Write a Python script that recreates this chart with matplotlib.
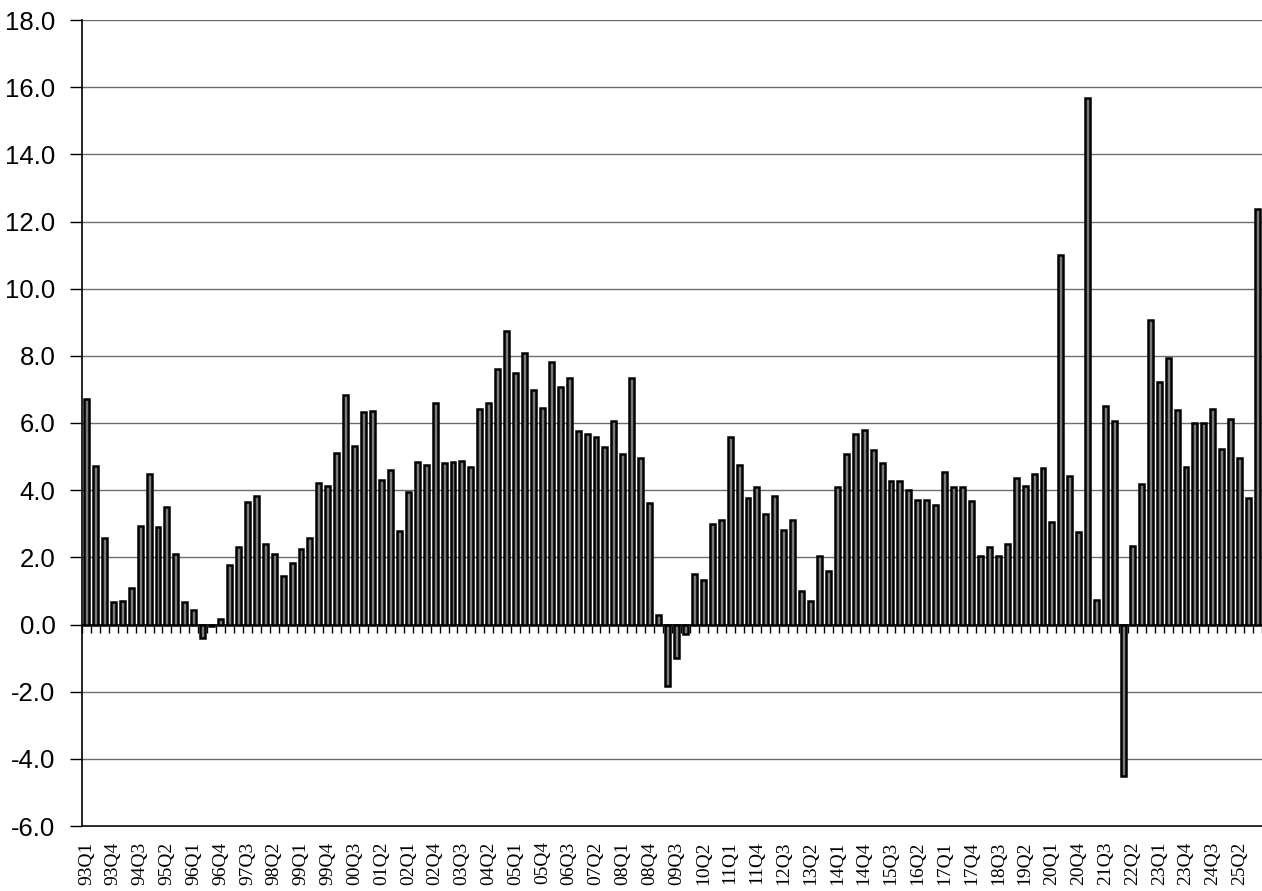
import numpy as np
import matplotlib
matplotlib.use("Agg")
import matplotlib.pyplot as plt

# quarterly growth, 93Q1 .. 25Q4
values = [
    6.72, 4.73, 2.57, 0.68,   # 1993
    0.71, 1.10, 2.92, 4.49,   # 1994
    2.91, 3.50, 2.11, 0.68,   # 1995
    0.44, -0.41, -0.05, 0.17, # 1996
    1.76, 2.31, 3.65, 3.83,   # 1997
    2.40, 2.11, 1.45, 1.84,   # 1998
    2.26, 2.58, 4.22, 4.12,   # 1999
    5.12, 6.84, 5.32, 6.32,   # 2000
    6.35, 4.31, 4.61, 2.77,   # 2001
    3.94, 4.85, 4.76, 6.60,   # 2002
    4.80, 4.85, 4.88, 4.70,   # 2003
    6.42, 6.60, 7.60, 8.73,   # 2004
    7.48, 8.09, 6.99, 6.45,   # 2005
    7.82, 7.08, 7.35, 5.76,   # 2006
    5.66, 5.57, 5.30, 6.05,   # 2007
    5.08, 7.33, 4.97, 3.63,   # 2008
    0.27, -1.84, -1.00, -0.27, # 2009
    1.50, 1.33, 2.99, 3.11,   # 2010
    5.59, 4.76, 3.77, 4.09,   # 2011
    3.29, 3.83, 2.82, 3.11,   # 2012
    1.00, 0.71, 2.04, 1.59,   # 2013
    4.09, 5.07, 5.68, 5.79,   # 2014
    5.19, 4.80, 4.27, 4.27,   # 2015
    4.00, 3.70, 3.70, 3.55,   # 2016
    4.53, 4.10, 4.10, 3.67,   # 2017
    2.03, 2.31, 2.04, 2.40,   # 2018
    4.36, 4.12, 4.48, 4.66,   # 2019
    3.06, 11.01, 4.43, 2.74,  # 2020
    15.69, 0.73, 6.52, 6.06,  # 2021
    -4.51, 2.35, 4.17, 9.07,  # 2022
    7.21, 7.94, 6.40, 4.70,   # 2023
    6.00, 6.00, 6.42, 5.24,   # 2024
    6.13, 4.97, 3.78, 12.38,  # 2025
]

years = list(range(1993, 2026))
quarters = [f"{y % 100:02d}Q{q}" for y in years for q in range(1, 5)]
label_step = 3

x = np.arange(len(values))

fig = plt.figure(figsize=(12.62, 8.91), dpi=100)
ax = fig.add_axes([82 / 1262, 1 - 826 / 891, 1 - 82 / 1262, (826 - 20) / 891])

ax.bar(x, values, width=0.55, color="#7a7a7a", edgecolor="black", linewidth=1.8, zorder=3)

ax.set_xlim(-0.5, len(values) - 0.5)
ax.set_ylim(-6, 18)
ax.set_yticks(np.arange(-6, 18.1, 2))
ax.set_yticklabels([f"{v:.1f}" for v in np.arange(-6, 18.1, 2)],
                   fontfamily="Liberation Sans", fontsize=18.5)
ax.tick_params(axis="y", direction="out", length=9, width=1, pad=10)
ax.grid(axis="y", color="#6e6e6e", linewidth=1, zorder=0)

# category axis sits on zero, ticks between categories
ax.spines["bottom"].set_position(("data", 0))
ax.spines["bottom"].set_linewidth(1.2)
ax.spines["top"].set_visible(False)
ax.spines["right"].set_visible(False)
ax.spines["left"].set_linewidth(1.2)
ax.set_xticks(np.arange(len(values) + 1) - 0.5)
ax.set_xticklabels([])
ax.tick_params(axis="x", direction="out", length=6, width=1)

# labels below the plot
sec = ax.secondary_xaxis("bottom")
sec.set_xticks(x[::label_step])
sec.set_xticklabels(quarters[::label_step], rotation=90, fontfamily="Liberation Serif",
                    fontsize=14, va="top", ha="center")
sec.tick_params(length=0, pad=11)
sec.spines["bottom"].set_color("black")
sec.spines["bottom"].set_linewidth(1.2)

fig.savefig("out.png", dpi=100)
